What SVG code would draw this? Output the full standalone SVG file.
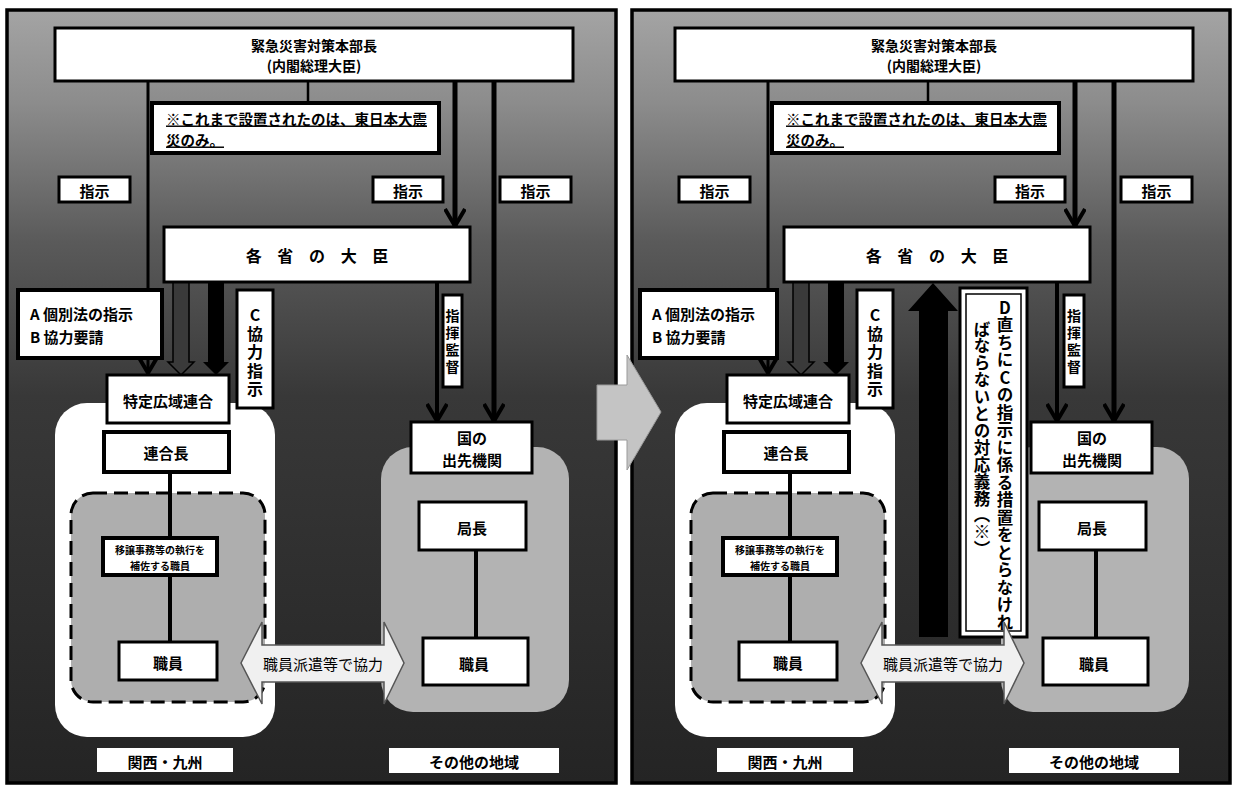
<svg xmlns="http://www.w3.org/2000/svg" width="1234" height="786" viewBox="0 0 1234 786">
<defs>
<linearGradient id="bg" x1="0" y1="0" x2="0" y2="1">
<stop offset="0" stop-color="#a4a4a4"/>
<stop offset="0.12" stop-color="#8c8c8c"/>
<stop offset="0.3" stop-color="#5a5a5a"/>
<stop offset="0.5" stop-color="#383838"/>
<stop offset="1" stop-color="#242424"/>
</linearGradient>
<marker id="v" markerUnits="userSpaceOnUse" viewBox="0 0 22 22" markerWidth="22" markerHeight="22" refX="19" refY="11" orient="auto">
<path d="M2,1 L19,11 L2,21" fill="none" stroke="#000" stroke-width="4"/>
</marker>
<style>
.panel{fill:url(#bg);stroke:#000;stroke-width:3.5}
.box{fill:#fff;stroke:#000;stroke-width:3}
.heavy{stroke-width:4}
.white{fill:#fff}
.grey{fill:#b3b3b3}
.dash{fill:#aeaeae;stroke:#000;stroke-width:3;stroke-dasharray:14 7}
.t{font-family:"Noto Sans CJK JP","Noto Sans",sans-serif;font-weight:700;fill:#000;text-anchor:middle;dominant-baseline:central;font-size:15px}
.s{text-anchor:start}
.u{text-decoration:underline}
.vt{writing-mode:vertical-rl;text-orientation:upright;text-anchor:start}
.ln{stroke:#000;fill:none}
.blk{fill:#000}
.chev{fill:#c4c4c4;stroke:#9a9a9a;stroke-width:1}
.hk{fill:#f0f0f0;stroke:#555;stroke-width:1.5}
</style>
</defs>
<rect width="1234" height="786" fill="#fff"/>

<!-- ================= LEFT PANEL ================= -->
<g id="left-panel">
<rect class="panel" x="7" y="10" width="609" height="773"/>
<rect id="L-kansai-region" class="white" x="55" y="403" width="220" height="334" rx="32"/>
<rect id="L-dashed-region" class="dash" x="71" y="493" width="194" height="209" rx="22"/>
<rect id="L-other-region" class="grey" x="381" y="447" width="188" height="265" rx="32"/>
</g>

<g id="L-connectors">
<line class="ln" x1="148" y1="81" x2="148" y2="373" stroke-width="3" marker-end="url(#v)"/>
<line class="ln" x1="308" y1="81" x2="308" y2="103" stroke-width="2.5"/>
<line class="ln" x1="455" y1="81" x2="455" y2="226" stroke-width="5" marker-end="url(#v)"/>
<line class="ln" x1="494" y1="81" x2="494" y2="421" stroke-width="5" marker-end="url(#v)"/>
<line class="ln" x1="437" y1="282" x2="437" y2="421" stroke-width="4" marker-end="url(#v)"/>
<polygon points="173,282 189,282 189,362 194,362 181,375 168,362 173,362" fill="#3a3a3a" stroke="#000" stroke-width="1.5"/>
<polygon points="208,282 224,282 224,362 229,362 216,375 203,362 208,362" fill="#000"/>
<line class="ln" x1="170" y1="472" x2="170" y2="538" stroke-width="4"/>
<line class="ln" x1="170" y1="575" x2="170" y2="642" stroke-width="4"/>
<line class="ln" x1="476" y1="550" x2="476" y2="638" stroke-width="4"/>
</g>

<g id="L-honbucho"><rect class="box" x="55" y="28" width="518" height="53"/>
<text class="t" x="314" y="45" style="font-size:14px">緊急災害対策本部長</text>
<text class="t" x="314" y="65" style="font-size:14px">(内閣総理大臣)</text></g>
<g id="L-note"><rect class="box heavy" x="152" y="103" width="287" height="50"/>
<text class="t s u" x="166" y="118" style="font-size:14.5px">※これまで設置されたのは、東日本大震</text>
<text class="t s u" x="166" y="139" style="font-size:14.5px">災のみ。</text></g>
<g id="L-shiji-1"><rect class="box" x="59" y="177" width="71" height="25"/><text class="t" x="94.5" y="190">指示</text></g>
<g id="L-shiji-2"><rect class="box" x="373" y="177" width="70" height="25"/><text class="t" x="408" y="190">指示</text></g>
<g id="L-shiji-3"><rect class="box" x="500" y="177" width="71" height="25"/><text class="t" x="535.5" y="190">指示</text></g>
<g id="L-kakusho"><rect class="box" x="164" y="227" width="306" height="55"/>
<text class="t" x="320" y="255" style="font-size:16px;letter-spacing:6px">各 省 の 大 臣</text></g>
<g id="L-ab"><rect class="box heavy" x="18" y="290" width="144" height="68"/>
<text class="t s" x="30" y="313">A 個別法の指示</text>
<text class="t s" x="30" y="336">B 協力要請</text></g>
<g id="L-c-label"><rect class="box" x="237" y="290" width="36" height="118"/>
<text class="t vt" x="255" y="307" style="font-size:16px;letter-spacing:2.5px">C協力指示</text></g>
<g id="L-shiki-label"><rect class="box" x="443" y="295" width="19" height="92"/>
<text class="t vt" x="452.5" y="309" style="font-size:14px;letter-spacing:3px">指揮監督</text></g>
<g id="L-tokutei"><rect class="box" x="107" y="375" width="122" height="48"/><text class="t" x="168" y="400">特定広域連合</text></g>
<g id="L-rengocho"><rect class="box heavy" x="104" y="432" width="125" height="40"/><text class="t" x="166" y="452">連合長</text></g>
<g id="L-hosa"><rect class="box heavy" x="103" y="538" width="114" height="37"/>
<text class="t" x="160" y="549" style="font-size:10px">移譲事務等の執行を</text>
<text class="t" x="160" y="565" style="font-size:10px">補佐する職員</text></g>
<g id="L-shokuin"><rect class="box" x="119" y="642" width="98" height="38"/><text class="t" x="168" y="662">職員</text></g>
<g id="L-demo"><rect class="box" x="411" y="422" width="121" height="51"/>
<text class="t" x="472" y="437">国の</text><text class="t" x="472" y="459">出先機関</text></g>
<g id="L-kyokucho"><rect class="box" x="419" y="502" width="107" height="48"/><text class="t" x="472" y="527">局長</text></g>
<g id="L-shokuin2"><rect class="box" x="423" y="638" width="105" height="47"/><text class="t" x="474" y="663">職員</text></g>
<g id="L-haken"><polygon class="hk" points="241,663 262,622 262,645 384,645 384,622 404,663 384,704 384,682 262,682 262,704"/>
<text class="t" x="323" y="663" style="font-weight:400">職員派遣等で協力</text></g>
<g id="L-kansai-label"><rect fill="#fff" x="97" y="748" width="136" height="24"/><text class="t" x="165" y="761">関西・九州</text></g>
<g id="L-other-label"><rect fill="#fff" x="389" y="748" width="170" height="25"/><text class="t" x="474" y="761">その他の地域</text></g>

<!-- ================= RIGHT PANEL ================= -->
<g id="right-panel">
<rect class="panel" x="632" y="10" width="598" height="773"/>
<rect id="R-kansai-region" class="white" x="675" y="403" width="220" height="334" rx="32"/>
<rect id="R-dashed-region" class="dash" x="691" y="493" width="194" height="209" rx="22"/>
<rect id="R-other-region" class="grey" x="1001" y="447" width="188" height="265" rx="32"/>
</g>

<g id="R-connectors">
<line class="ln" x1="768" y1="81" x2="768" y2="373" stroke-width="3" marker-end="url(#v)"/>
<line class="ln" x1="928" y1="81" x2="928" y2="103" stroke-width="2.5"/>
<line class="ln" x1="1075" y1="81" x2="1075" y2="226" stroke-width="5" marker-end="url(#v)"/>
<line class="ln" x1="1114" y1="81" x2="1114" y2="421" stroke-width="5" marker-end="url(#v)"/>
<line class="ln" x1="1057" y1="282" x2="1057" y2="421" stroke-width="4" marker-end="url(#v)"/>
<polygon points="793,282 809,282 809,362 814,362 801,375 788,362 793,362" fill="#3a3a3a" stroke="#000" stroke-width="1.5"/>
<polygon points="828,282 844,282 844,362 849,362 836,375 823,362 828,362" fill="#000"/>
<line class="ln" x1="790" y1="472" x2="790" y2="538" stroke-width="4"/>
<line class="ln" x1="790" y1="575" x2="790" y2="642" stroke-width="4"/>
<line class="ln" x1="1096" y1="550" x2="1096" y2="638" stroke-width="4"/>
<polygon id="R-big-arrow" class="blk" points="908,311 933,283 958,311 948,311 948,637 919,637 919,311"/>
</g>

<g id="R-honbucho"><rect class="box" x="675" y="28" width="518" height="53"/>
<text class="t" x="934" y="45" style="font-size:14px">緊急災害対策本部長</text>
<text class="t" x="934" y="65" style="font-size:14px">(内閣総理大臣)</text></g>
<g id="R-note"><rect class="box heavy" x="772" y="103" width="287" height="50"/>
<text class="t s u" x="786" y="118" style="font-size:14.5px">※これまで設置されたのは、東日本大震</text>
<text class="t s u" x="786" y="139" style="font-size:14.5px">災のみ。</text></g>
<g id="R-shiji-1"><rect class="box" x="679" y="177" width="71" height="25"/><text class="t" x="714.5" y="190">指示</text></g>
<g id="R-shiji-2"><rect class="box" x="995" y="177" width="70" height="25"/><text class="t" x="1030" y="190">指示</text></g>
<g id="R-shiji-3"><rect class="box" x="1121" y="177" width="71" height="25"/><text class="t" x="1156.5" y="190">指示</text></g>
<g id="R-kakusho"><rect class="box" x="784" y="227" width="306" height="55"/>
<text class="t" x="940" y="255" style="font-size:16px;letter-spacing:6px">各 省 の 大 臣</text></g>
<g id="R-ab"><rect class="box heavy" x="640" y="290" width="137" height="68"/>
<text class="t s" x="652" y="313">A 個別法の指示</text>
<text class="t s" x="652" y="336">B 協力要請</text></g>
<g id="R-c-label"><rect class="box" x="857" y="290" width="36" height="118"/>
<text class="t vt" x="875" y="307" style="font-size:16px;letter-spacing:2.5px">C協力指示</text></g>
<g id="R-d-label"><rect class="box" x="960" y="288" width="67" height="349"/>
<rect fill="none" stroke="#000" stroke-width="1.5" x="966" y="294" width="55" height="337"/>
<text class="t vt" x="1005" y="299" style="font-size:16.5px;letter-spacing:1px">D直ちにCの指示に係る措置をとらなけれ</text>
<text class="t vt" x="982" y="321" style="font-size:16.5px;letter-spacing:0.4px">ばならないとの対応義務（※）</text></g>
<g id="R-shiki-label"><rect class="box" x="1064" y="295" width="20" height="92"/>
<text class="t vt" x="1074" y="309" style="font-size:14px;letter-spacing:3px">指揮監督</text></g>
<g id="R-tokutei"><rect class="box" x="727" y="375" width="122" height="48"/><text class="t" x="788" y="400">特定広域連合</text></g>
<g id="R-rengocho"><rect class="box heavy" x="724" y="432" width="125" height="40"/><text class="t" x="786" y="452">連合長</text></g>
<g id="R-hosa"><rect class="box heavy" x="723" y="538" width="114" height="37"/>
<text class="t" x="780" y="549" style="font-size:10px">移譲事務等の執行を</text>
<text class="t" x="780" y="565" style="font-size:10px">補佐する職員</text></g>
<g id="R-shokuin"><rect class="box" x="739" y="642" width="98" height="38"/><text class="t" x="788" y="662">職員</text></g>
<g id="R-demo"><rect class="box" x="1031" y="422" width="121" height="51"/>
<text class="t" x="1092" y="437">国の</text><text class="t" x="1092" y="459">出先機関</text></g>
<g id="R-kyokucho"><rect class="box" x="1039" y="502" width="107" height="48"/><text class="t" x="1092" y="527">局長</text></g>
<g id="R-shokuin2"><rect class="box" x="1043" y="638" width="105" height="47"/><text class="t" x="1094" y="663">職員</text></g>
<g id="R-haken"><polygon class="hk" points="861,663 882,622 882,645 1004,645 1004,622 1024,663 1004,704 1004,682 882,682 882,704"/>
<text class="t" x="943" y="663" style="font-weight:400">職員派遣等で協力</text></g>
<g id="R-kansai-label"><rect fill="#fff" x="717" y="748" width="136" height="24"/><text class="t" x="785" y="761">関西・九州</text></g>
<g id="R-other-label"><rect fill="#fff" x="1009" y="748" width="170" height="25"/><text class="t" x="1094" y="761">その他の地域</text></g>

<!-- transition chevron -->
<g id="transition-arrow"><polygon class="chev" points="597,385 627,385 627,355 661,412 627,470 627,440 597,440"/></g>
</svg>
